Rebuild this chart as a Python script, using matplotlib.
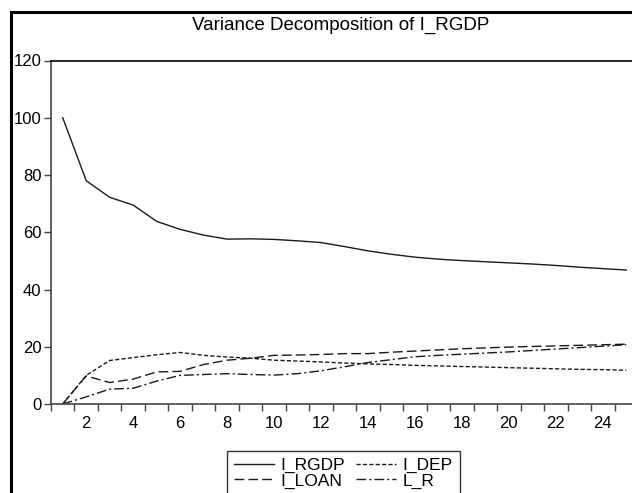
import matplotlib
matplotlib.use('Agg')
import matplotlib.pyplot as plt
from matplotlib.patches import Rectangle

plt.rcParams['font.family'] = ['Liberation Sans', 'DejaVu Sans']

periods = list(range(1, 26))
l_rgdp = [100, 78.0, 72.2, 69.5, 63.8, 61.0, 59.0, 57.6, 57.7, 57.5, 57.0, 56.4, 55.0,
          53.5, 52.3, 51.3, 50.6, 50.1, 49.7, 49.3, 48.9, 48.4, 47.8, 47.3, 46.8]
l_dep = [0, 10.0, 15.2, 16.2, 17.2, 18.0, 17.0, 16.4, 16.0, 15.3, 15.0, 14.7, 14.3,
         14.0, 13.8, 13.5, 13.3, 13.1, 12.9, 12.7, 12.5, 12.3, 12.1, 12.0, 11.8]
l_loan = [0, 9.8, 7.5, 8.7, 11.2, 11.4, 13.8, 15.3, 16.0, 17.0, 17.1, 17.3, 17.6,
          17.6, 18.1, 18.5, 18.9, 19.3, 19.6, 19.9, 20.1, 20.3, 20.5, 20.7, 20.9]
l_r = [0, 2.5, 5.2, 5.5, 8.0, 10.0, 10.3, 10.6, 10.3, 10.1, 10.6, 11.6, 13.0,
       14.5, 15.5, 16.5, 17.0, 17.4, 17.8, 18.2, 18.7, 19.2, 19.7, 20.2, 20.7]
y_ticks = [0, 20, 40, 60, 80, 100, 120]
x_ticks = list(range(2, 25, 2))

fig = plt.figure(figsize=(6.32, 4.93), dpi=100)
ax = fig.add_axes([51 / 632, 1 - 404 / 493, 587 / 632, 343.5 / 493])

c = '#1a1a1a'
h_rgdp, = ax.plot(periods, l_rgdp, color=c, lw=1.0, label='I_RGDP')
h_dep, = ax.plot(periods, l_dep, color=c, lw=1.0, dashes=(3, 1.6), label='I_DEP')
h_loan, = ax.plot(periods, l_loan, color=c, lw=1.0, dashes=(7, 3), label='I_LOAN')
h_r, = ax.plot(periods, l_r, color=c, lw=1.0, dashes=(7, 2.2, 1.5, 2.2), label='L_R')

ax.set_xlim(0.5, 25.5)
ax.set_ylim(0, 120)
ax.set_yticks(y_ticks)
ax.set_xticks(x_ticks)
ax.set_xticks([i + 0.5 for i in range(25)], minor=True)
ax.tick_params(axis='x', which='major', length=0, labelsize=12, pad=9)
ax.tick_params(axis='x', which='minor', length=5, width=1, color='#444444')
ax.tick_params(axis='y', length=5, width=1, labelsize=12, pad=2, color='#444444')
for s in ax.spines.values():
    s.set_linewidth(1.2)
ax.spines['left'].set_color('#444444')
ax.spines['bottom'].set_color('#444444')

fig.text(341 / 632, 1 - 25 / 493, 'Variance Decomposition of I_RGDP',
         ha='center', va='center', fontsize=13.5)

# legend sits low like the reference; the frame runs past the bottom edge
leg = fig.legend([h_rgdp, h_loan, h_dep, h_r], ['I_RGDP', 'I_LOAN', 'I_DEP', 'L_R'],
                 loc='upper left', bbox_to_anchor=(227 / 632, 1 - 451 / 493), ncol=2,
                 fontsize=12.5, frameon=True, fancybox=False, edgecolor='black',
                 handlelength=2.3, handletextpad=0.4, columnspacing=0.6,
                 borderpad=0.4, labelspacing=0.0, borderaxespad=0)
leg.get_frame().set_linewidth(1.0)
leg.get_frame().set_height(80)

fig.patches.append(Rectangle((11 / 632, -0.1), 1.2, 1 - 12 / 493 + 0.1,
                             transform=fig.transFigure, fill=False,
                             edgecolor='black', lw=2.2))

fig.savefig('out.png', dpi=100)
